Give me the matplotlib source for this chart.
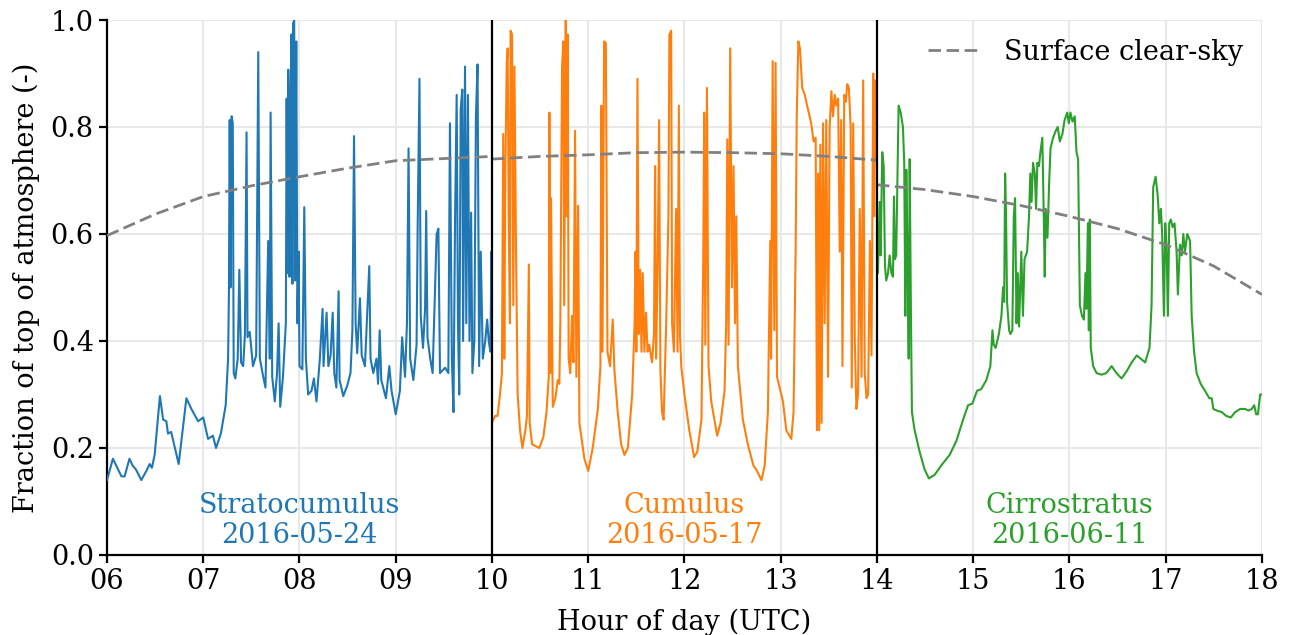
import matplotlib
matplotlib.use("Agg")
import matplotlib.pyplot as plt

plt.rcParams['font.family'] = ['DejaVu Serif']

# minutes after the segment start, fraction of TOA irradiance
sc_min = [0, 3.7, 5.8, 9, 11, 14, 16, 18, 21.4, 24.5, 26.6, 28, 29.7, 33, 35, 37, 38, 40, 44.7,
          49.5, 52.6, 56.8, 60, 63, 66, 68, 71, 74, 75.5, 76, 76.5, 77, 77.7, 78.4, 79, 80, 81.5,
          82.5, 83.6, 84.9, 86, 87, 87.6, 89, 91, 93, 94.3, 95.3, 97.4, 98.8, 100.5, 101.5, 102,
          103, 104.6, 106, 107, 108, 109.7, 111.5, 112, 112.5, 113, 113.8, 114.4, 115, 115.6, 116,
          116.7, 117.3, 118, 118.7, 119.5, 120, 121.8, 123, 124, 125.4, 127.5, 129, 130.6, 132.7,
          134.4, 135, 136.9, 138, 139.4, 140.7, 141.7, 143, 144.4, 145, 147.3, 149.8, 151.8, 153,
          154, 155, 156, 157.7, 158.8, 160.8, 163.5, 164.3, 166, 168, 169, 170, 171, 173.9, 176,
          177.4, 180, 182.6, 184, 185.8, 187, 188, 189, 191, 193, 193.7, 194.8, 195.6, 197, 198.3,
          199, 199.8, 201.5, 203, 205.5, 206.6, 207.6, 210.8, 212.8, 213.8, 215, 216, 217, 218,
          218.8, 219.6, 220.5, 221.5, 222, 223.2, 224, 225, 226, 227, 227.8, 229, 230, 231, 232,
          233, 234.3, 235.8, 237, 238, 239, 239.7, 240]
sc_val = [0.14, 0.18, 0.167, 0.147, 0.147, 0.18, 0.167, 0.16, 0.14, 0.157, 0.17, 0.163, 0.187,
          0.297, 0.253, 0.25, 0.227, 0.23, 0.17, 0.293, 0.273, 0.25, 0.257, 0.217, 0.223, 0.2,
          0.227, 0.28, 0.367, 0.487, 0.813, 0.5, 0.82, 0.807, 0.34, 0.33, 0.367, 0.533, 0.36,
          0.353, 0.413, 0.79, 0.407, 0.417, 0.353, 0.373, 0.94, 0.367, 0.333, 0.313, 0.587, 0.367,
          0.827, 0.333, 0.287, 0.34, 0.433, 0.277, 0.333, 0.433, 0.853, 0.527, 0.907, 0.52, 0.847,
          0.973, 0.507, 0.993, 1.0, 0.513, 0.96, 0.433, 0.567, 0.353, 0.347, 0.65, 0.367, 0.3,
          0.307, 0.33, 0.287, 0.367, 0.46, 0.353, 0.453, 0.353, 0.373, 0.453, 0.34, 0.313, 0.493,
          0.327, 0.297, 0.317, 0.34, 0.42, 0.783, 0.433, 0.377, 0.48, 0.373, 0.353, 0.54, 0.367,
          0.34, 0.367, 0.32, 0.42, 0.327, 0.293, 0.353, 0.307, 0.263, 0.307, 0.407, 0.333, 0.433,
          0.76, 0.367, 0.327, 0.393, 0.62, 0.89, 0.447, 0.387, 0.46, 0.643, 0.407, 0.367, 0.34,
          0.6, 0.61, 0.34, 0.35, 0.34, 0.807, 0.367, 0.267, 0.633, 0.86, 0.433, 0.3, 0.833, 0.87,
          0.4, 0.913, 0.433, 0.86, 0.4, 0.64, 0.34, 0.4, 0.82, 0.917, 0.353, 0.567, 0.367, 0.4,
          0.44, 0.4, 0.38, 0.567, 0.38]

cu_min = [0, 2, 3.5, 5, 6.2, 7, 7.7, 8.3, 9.2, 9.8, 10.4, 11.2, 11.6, 12.5, 13.3, 14, 15, 16, 17.5,
          19, 20.8, 21.8, 23, 23.5, 25, 27.5, 29.5, 32, 34, 35.4, 35.8, 36.4, 36.8, 37.9, 39.5, 41,
          42, 42.6, 43.7, 44.5, 45, 46, 46.6, 47.2, 47.8, 48.8, 49.9, 50.8, 51.8, 52.6, 53.7, 54.5,
          57.6, 60, 62.8, 66, 67.6, 68.2, 68.9, 69.9, 71, 72, 73.6, 75.3, 76.3, 78.4, 80.5, 82.6,
          84.7, 87.4, 88.9, 89.5, 90, 90.7, 91.5, 92.4, 93.2, 94, 95, 96, 97, 98, 99.8, 101, 101.7,
          102.3, 103.3, 104.2, 105, 106, 107, 108.6, 110, 110.6, 111.7, 112.3, 113.4, 114.8, 115.7,
          116.5, 117.2, 118, 120, 123, 126, 128, 130.6, 131.7, 132.3, 133, 134, 135, 136.7, 140.4,
          142.5, 145, 146, 146.7, 147.5, 148.5, 149.6, 150.6, 151.5, 152.3, 153.3, 156.4, 159.5,
          163, 164.7, 168, 170, 172, 173.5, 174, 175, 176, 176.8, 177.7, 179.3, 181.4, 183.5,
          186.6, 188, 189.3, 190, 191, 192, 193.4, 195, 197, 199, 200.5, 201.8, 202.6, 203.3, 204,
          204.7, 205.5, 206.4, 207.4, 208.4, 209.5, 210.5, 211.6, 212.6, 213.7, 214.7, 215.8,
          216.8, 217.7, 218.5, 219.6, 220.6, 221.5, 222.5, 223.6, 224.3, 225.2, 226.2, 227.2,
          228.2, 229.3, 230.4, 231.4, 232.4, 233.5, 234.5, 235.6, 236.6, 237.7, 238.3, 239, 239.7]
cu_val = [0.247, 0.26, 0.26, 0.3, 0.34, 0.787, 0.367, 0.713, 0.92, 0.947, 0.633, 0.433, 0.98,
          0.973, 0.467, 0.913, 0.567, 0.3, 0.233, 0.2, 0.233, 0.26, 0.543, 0.247, 0.207, 0.203,
          0.2, 0.22, 0.267, 0.333, 0.827, 0.34, 0.667, 0.277, 0.293, 0.327, 0.32, 0.433, 0.913,
          0.96, 0.467, 1.0, 0.633, 0.973, 0.367, 0.34, 0.447, 0.36, 0.793, 0.333, 0.653, 0.247,
          0.18, 0.157, 0.2, 0.273, 0.353, 0.84, 0.38, 0.96, 0.957, 0.38, 0.353, 0.44, 0.347,
          0.267, 0.207, 0.187, 0.2, 0.3, 0.433, 0.567, 0.38, 0.89, 0.413, 0.533, 0.38, 0.527,
          0.38, 0.453, 0.38, 0.393, 0.36, 0.413, 0.727, 0.367, 0.54, 0.813, 0.347, 0.267, 0.253,
          0.433, 0.633, 0.973, 0.98, 0.433, 0.38, 0.647, 0.38, 0.84, 0.413, 0.353, 0.3, 0.233,
          0.183, 0.193, 0.253, 0.553, 0.827, 0.393, 0.873, 0.353, 0.287, 0.223, 0.247, 0.307,
          0.433, 0.777, 0.393, 0.947, 0.5, 0.727, 0.433, 0.633, 0.353, 0.253, 0.207, 0.167, 0.16,
          0.14, 0.167, 0.267, 0.587, 0.367, 0.923, 0.42, 0.92, 0.333, 0.313, 0.287, 0.233, 0.217,
          0.267, 0.567, 0.82, 0.96, 0.947, 0.873, 0.86, 0.833, 0.807, 0.773, 0.78, 0.233, 0.713,
          0.233, 0.767, 0.247, 0.807, 0.433, 0.813, 0.333, 0.8, 0.867, 0.82, 0.86, 0.84, 0.853,
          0.567, 0.813, 0.353, 0.86, 0.847, 0.88, 0.873, 0.8, 0.313, 0.807, 0.4, 0.273, 0.3,
          0.647, 0.333, 0.887, 0.34, 0.293, 0.3, 0.587, 0.373, 0.9, 0.633, 0.887, 0.74]

ci_min = [0, 0.6, 1.7, 2.3, 3.3, 4.2, 5, 5.8, 6.9, 7.9, 9, 10, 10.6, 11.2, 12, 12.9, 13.5, 14.8,
          16.2, 17, 17.7, 18.3, 19, 19.8, 20.4, 21.2, 21.8, 23.5, 26.6, 29.7, 32.4, 36, 40, 45.3,
          49.5, 53.7, 56.8, 59.5, 62.4, 65, 68.2, 70.7, 72, 72.8, 74, 76, 77.6, 78.6, 79.3, 79.9,
          80.5, 81.1, 82.4, 83.2, 84.4, 85.3, 86.1, 87, 87.8, 88.6, 90, 91, 92, 93.6, 94.8, 95.6,
          96.4, 97.3, 98.4, 99.2, 100, 101, 101.9, 102.5, 103.1, 104, 104.6, 105.2, 106.3, 107.4,
          108.2, 109.8, 111.5, 112.7, 114, 115.6, 117, 118.6, 119.6, 120.6, 121.9, 123.3, 124.4,
          125.4, 126.5, 127.8, 129, 130, 130.6, 131.5, 132.1, 132.7, 133.3, 134.8, 136.9, 140, 143,
          146.3, 149.3, 152.5, 155.6, 158.8, 162, 164.4, 167.2, 169.9, 171.2, 172.2, 173.7, 175,
          176, 177, 177.8, 178.9, 179.7, 180.5, 181.4, 182.2, 183.2, 184.3, 185.5, 186.8, 187.6,
          188.9, 190, 191, 192, 193.5, 195.2, 196.2, 197.7, 199.3, 201.8, 204.5, 207.2, 208.7,
          209.7, 211.8, 215, 217.7, 220.6, 223.3, 226.4, 229.5, 231.6, 233.7, 235.2, 236.4, 237.5,
          238.9, 240]
ci_val = [0.58, 0.527, 0.66, 0.56, 0.753, 0.727, 0.54, 0.513, 0.527, 0.56, 0.527, 0.52, 0.67,
          0.553, 0.56, 0.733, 0.84, 0.827, 0.8, 0.733, 0.447, 0.72, 0.567, 0.367, 0.74, 0.447,
          0.267, 0.233, 0.193, 0.16, 0.143, 0.15, 0.167, 0.187, 0.213, 0.253, 0.28, 0.283, 0.307,
          0.31, 0.327, 0.353, 0.42, 0.393, 0.387, 0.413, 0.447, 0.5, 0.473, 0.713, 0.633, 0.473,
          0.42, 0.413, 0.42, 0.633, 0.667, 0.433, 0.527, 0.427, 0.567, 0.447, 0.553, 0.567, 0.633,
          0.713, 0.66, 0.733, 0.713, 0.647, 0.733, 0.727, 0.753, 0.767, 0.78, 0.633, 0.52, 0.647,
          0.593, 0.7, 0.76, 0.78, 0.793, 0.8, 0.773, 0.787, 0.813, 0.827, 0.807, 0.827, 0.81, 0.82,
          0.753, 0.74, 0.467, 0.447, 0.44, 0.527, 0.46, 0.62, 0.42, 0.627, 0.387, 0.353, 0.34,
          0.337, 0.34, 0.353, 0.34, 0.33, 0.343, 0.36, 0.373, 0.367, 0.36, 0.387, 0.467, 0.687,
          0.707, 0.673, 0.62, 0.647, 0.6, 0.447, 0.62, 0.58, 0.447, 0.62, 0.627, 0.613, 0.62,
          0.567, 0.487, 0.58, 0.56, 0.6, 0.567, 0.6, 0.587, 0.447, 0.38, 0.34, 0.32, 0.307, 0.293,
          0.293, 0.273, 0.27, 0.267, 0.26, 0.257, 0.267, 0.273, 0.273, 0.27, 0.273, 0.28, 0.263,
          0.263, 0.3, 0.3]

# clear-sky reference every half hour for each day
cs_min = [0, 30, 60, 90, 120, 150, 180, 210, 240]
cs_sc = [0.597, 0.637, 0.67, 0.69, 0.707, 0.723, 0.737, 0.741, 0.745]
cs_cu = [0.74, 0.745, 0.748, 0.752, 0.753, 0.752, 0.75, 0.745, 0.738]
cs_ci = [0.692, 0.683, 0.67, 0.653, 0.633, 0.61, 0.58, 0.54, 0.487]

segments = [
    (6, sc_min, sc_val, cs_sc, '#1f77b4', 'Stratocumulus\n2016-05-24'),
    (10, cu_min, cu_val, cs_cu, '#ff7f0e', 'Cumulus\n2016-05-17'),
    (14, ci_min, ci_val, cs_ci, '#2ca02c', 'Cirrostratus\n2016-06-11'),
]

FS = 19.5

fig = plt.figure(figsize=(12.89, 6.35), dpi=100)
ax = fig.add_axes([0.083, 0.126, 0.896, 0.8425])

for i, (start, mins, vals, cs, color, label) in enumerate(segments):
    hours = [start + m / 60 for m in mins]
    ax.plot(hours, vals, color=color, lw=1.5, zorder=3)
    cs_hours = [start + m / 60 for m in cs_min]
    ax.plot(cs_hours, cs, color='gray', ls='--', lw=2, dashes=(4.5, 2), zorder=4,
            label='Surface clear-sky' if i == 0 else None)
    ax.text(start + 2, 0.012, label, color=color, ha='center', va='bottom',
            fontsize=FS, linespacing=1.1)

for x in [10, 14]:
    ax.axvline(x, color='black', lw=1.6, zorder=5)

ax.set_xlim(6, 18)
ax.set_ylim(0, 1)
ax.set_xticks(range(6, 19))
ax.set_xticklabels([f'{h:02d}' for h in range(6, 19)])
ax.set_yticks([0, 0.2, 0.4, 0.6, 0.8, 1.0])
ax.grid(True, color='#e8e8e8', lw=1.5)
ax.set_axisbelow(True)
for side in ['top', 'right']:
    ax.spines[side].set_visible(False)
for side in ['left', 'bottom']:
    ax.spines[side].set_linewidth(1.6)
ax.tick_params(labelsize=FS, width=1.6, length=6)
ax.set_xlabel('Hour of day (UTC)', fontsize=FS, labelpad=10)
ax.set_ylabel('Fraction of top of atmosphere (-)', fontsize=FS, labelpad=8)
ax.legend(loc='upper right', frameon=False, fontsize=FS, handlelength=1.9,
          handletextpad=0.9, borderaxespad=0.3)

fig.savefig('out.png', dpi=100)
